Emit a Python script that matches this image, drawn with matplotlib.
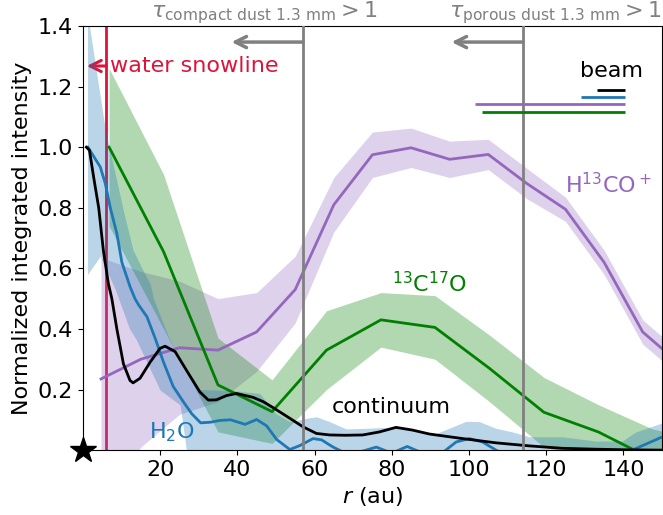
import matplotlib
matplotlib.use("Agg")
import matplotlib.pyplot as plt
import numpy as np

# ---------------- data ----------------
# continuum (black)
cont_r = [0.9, 1.7, 2.8, 4.1, 5.3, 6.6, 7.5, 8.8, 10.5, 12.2, 13.0, 14.8, 17.4, 20.0, 21.3,
          23.9, 26.9, 30.3, 32.5, 34.6, 37.2, 39.8, 44.1, 46.7, 49.3, 53.6, 57.0, 60.5,
          63.9, 68.0, 72.5, 76.8, 81.1, 85.4, 89.8, 98.4, 107.0, 115.6, 124.2, 132.8, 141.0, 150.0]
cont_I = [1.0, 0.99, 0.90, 0.80, 0.66, 0.55, 0.50, 0.40, 0.285, 0.23, 0.222, 0.237, 0.29, 0.336, 0.343,
          0.325, 0.262, 0.192, 0.165, 0.166, 0.18, 0.187, 0.174, 0.16, 0.14, 0.105, 0.077, 0.055,
          0.05, 0.049, 0.05, 0.06, 0.075, 0.066, 0.053, 0.038, 0.024, 0.014, 0.006, 0.003, 0.001, 0.0]

# H2O (blue)
h2o_r = [1.3, 4.5, 5.8, 7.1, 8.8, 10.1, 12.2, 13.5, 14.4, 16.6, 18.7, 20.9, 23.4, 26.0, 28.2,
         30.5, 33.0, 35.5, 38.3, 42.0, 45.0, 47.6, 50.2, 53.6, 56.2, 59.6, 61.8, 64.8, 68.0,
         72.0, 76.0, 80.0, 84.0, 88.0, 92.0, 96.7, 100.1, 103.5, 107.0, 112.0, 118.0, 124.0,
         130.0, 136.0, 140.0, 143.2, 149.6, 152.0]
h2o_I = [1.0, 0.935, 0.88, 0.80, 0.715, 0.62, 0.54, 0.50, 0.48, 0.44, 0.37, 0.29, 0.21, 0.16, 0.12,
         0.09, 0.092, 0.098, 0.10, 0.085, 0.101, 0.08, 0.035, 0.002, 0.015, 0.038, 0.034, 0.01, -0.01,
         -0.005, 0.01, -0.01, 0.012, -0.01, -0.02, 0.027, 0.038, 0.027, 0.0, -0.03, -0.04, -0.03,
         -0.03, -0.02, -0.01, 0.005, 0.041, 0.05]
h2o_up_r = [1.2, 1.7, 5.8, 10.5, 13.0, 15.7, 17.4, 18.3, 22.0, 26.0, 30.3, 35.5, 40.0, 45.8, 50.0,
            53.6, 57.9, 60.5, 63.9, 68.2, 73.4, 78.6, 83.7, 87.2, 91.5, 95.8, 99.2, 102.7, 107.0,
            111.3, 115.6, 124.2, 132.8, 139.7, 143.2, 149.6, 152.0]
h2o_up = [1.45, 1.40, 1.06, 0.79, 0.66, 0.59, 0.55, 0.50, 0.38, 0.27, 0.20, 0.198, 0.195, 0.187, 0.12,
          0.094, 0.105, 0.11, 0.094, 0.07, 0.072, 0.075, 0.075, 0.06, 0.055, 0.077, 0.095, 0.094, 0.072,
          0.06, 0.044, 0.044, 0.03, 0.03, 0.06, 0.088, 0.10]
h2o_lo_r = [1.2, 4.5, 8.4, 12.1, 13.9, 20.0, 25.2, 27.0, 30.0, 152.0]
h2o_lo = [0.58, 0.64, 0.53, 0.40, 0.363, 0.198, 0.149, -0.02, -0.05, -0.05]

# H13CO+ (purple)
hco_r = [4.7, 15, 25, 35, 45, 55, 65, 75, 85, 95, 105, 115, 125, 135, 145, 155]
hco_I = [0.235, 0.30, 0.338, 0.33, 0.39, 0.53, 0.81, 0.975, 0.998, 0.96, 0.976, 0.88, 0.795, 0.62, 0.39, 0.28]
hco_err = [0.40, 0.29, 0.22, 0.17, 0.13, 0.11, 0.09, 0.075, 0.065, 0.06, 0.05, 0.05, 0.04, 0.04, 0.04, 0.04]

# 13C17O (green)
co_r = [6.8, 20.9, 35.0, 49.0, 63.1, 77.2, 91.2, 105.3, 119.4, 133.5, 147.5, 161.6]
co_I = [1.0, 0.655, 0.215, 0.127, 0.33, 0.43, 0.405, 0.27, 0.125, 0.06, -0.03, -0.05]
co_err = [0.26, 0.255, 0.155, 0.105, 0.13, 0.09, 0.105, 0.11, 0.115, 0.09, 0.10, 0.08]

# beam sizes (au): continuum, H2O, H13CO+, 13C17O
beam_sizes = [7.3, 11.4, 38.9, 37.1]
beam_colors = ["black", "tab:blue", "tab:purple", "green"]

snowline_r = 6.0
tau_compact_r = 57.0
tau_porous_r = 114.0

# ---------------- figure ----------------
fig = plt.figure(figsize=(6.63, 5.15), dpi=100)
ax = fig.add_axes([0.125, 0.126, 0.8735, 0.8235])

FS = 16

# snowline (under the fills)
ax.axvline(snowline_r, color="crimson", lw=2, zorder=0.5)
ax.annotate("", xy=(1.0, 1.268), xytext=(snowline_r, 1.268),
            arrowprops=dict(arrowstyle="->", color="crimson", lw=2.2, mutation_scale=20,
                            shrinkA=0, shrinkB=0), zorder=0.5)
ax.text(7.0, 1.268, "water snowline", color="crimson", fontsize=FS, va="center", ha="left")

# bands
ax.fill_between(hco_r, np.array(hco_I) - np.array(hco_err), np.array(hco_I) + np.array(hco_err),
                color="tab:purple", alpha=0.3, lw=0, zorder=1)
ax.fill_between(co_r, np.array(co_I) - np.array(co_err), np.array(co_I) + np.array(co_err),
                color="green", alpha=0.3, lw=0, zorder=1)
xb = np.union1d(h2o_up_r, h2o_lo_r)
ax.fill_between(xb, np.interp(xb, h2o_lo_r, h2o_lo), np.interp(xb, h2o_up_r, h2o_up),
                color="tab:blue", alpha=0.3, lw=0, zorder=1)

# lines
ax.plot(hco_r, hco_I, color="tab:purple", lw=2, zorder=3)
ax.plot(co_r, co_I, color="green", lw=2, zorder=3)
ax.plot(h2o_r, h2o_I, color="tab:blue", lw=2, zorder=3)
ax.plot(cont_r, cont_I, color="black", lw=2, zorder=3)

# optical depth lines
for rr in (tau_compact_r, tau_porous_r):
    ax.axvline(rr, color="gray", lw=2, zorder=4)
    ax.annotate("", xy=(rr - 18.5, 1.347), xytext=(rr, 1.347),
                arrowprops=dict(arrowstyle="->", color="gray", lw=2.5, mutation_scale=20,
                                shrinkA=0, shrinkB=0), zorder=4)
ax.text(47.0, 1.4, r"$\tau_{\rm compact\ dust\ 1.3\ mm} > 1$", color="gray", fontsize=FS,
        ha="center", va="bottom")
ax.text(122.5, 1.4, r"$\tau_{\rm porous\ dust\ 1.3\ mm} > 1$", color="gray", fontsize=FS,
        ha="center", va="bottom")

# beams
beam_right = 140.4
for i, (b, c) in enumerate(zip(beam_sizes, beam_colors)):
    yy = 1.188 - 0.0235 * i
    ax.plot([beam_right - b, beam_right], [yy, yy], color=c, lw=2, solid_capstyle="butt", zorder=5)
ax.text(136.8, 1.25, "beam", fontsize=FS, ha="center", va="center")

# labels
ax.text(125.0, 0.875, r"H$^{13}$CO$^+$", color="tab:purple", fontsize=FS, ha="left", va="center")
ax.text(89.8, 0.55, r"$^{13}$C$^{17}$O", color="green", fontsize=FS, ha="center", va="center")
ax.text(80.0, 0.142, "continuum", color="black", fontsize=FS, ha="center", va="center")
ax.text(23.0, 0.06, r"H$_2$O", color="tab:blue", fontsize=FS, ha="center", va="center")

# star
ax.plot([0], [0], marker="*", ms=19, color="black", clip_on=False, zorder=10)

ax.set_xlim(0, 150)
ax.set_ylim(0, 1.4)
ax.set_xticks([20, 40, 60, 80, 100, 120, 140])
ax.set_yticks([0.2, 0.4, 0.6, 0.8, 1.0, 1.2, 1.4])
ax.tick_params(labelsize=FS)
ax.set_xlabel(r"$r$ (au)", fontsize=FS)
ax.set_ylabel("Normalized integrated intensity", fontsize=FS)

fig.savefig("out.png", dpi=100)
